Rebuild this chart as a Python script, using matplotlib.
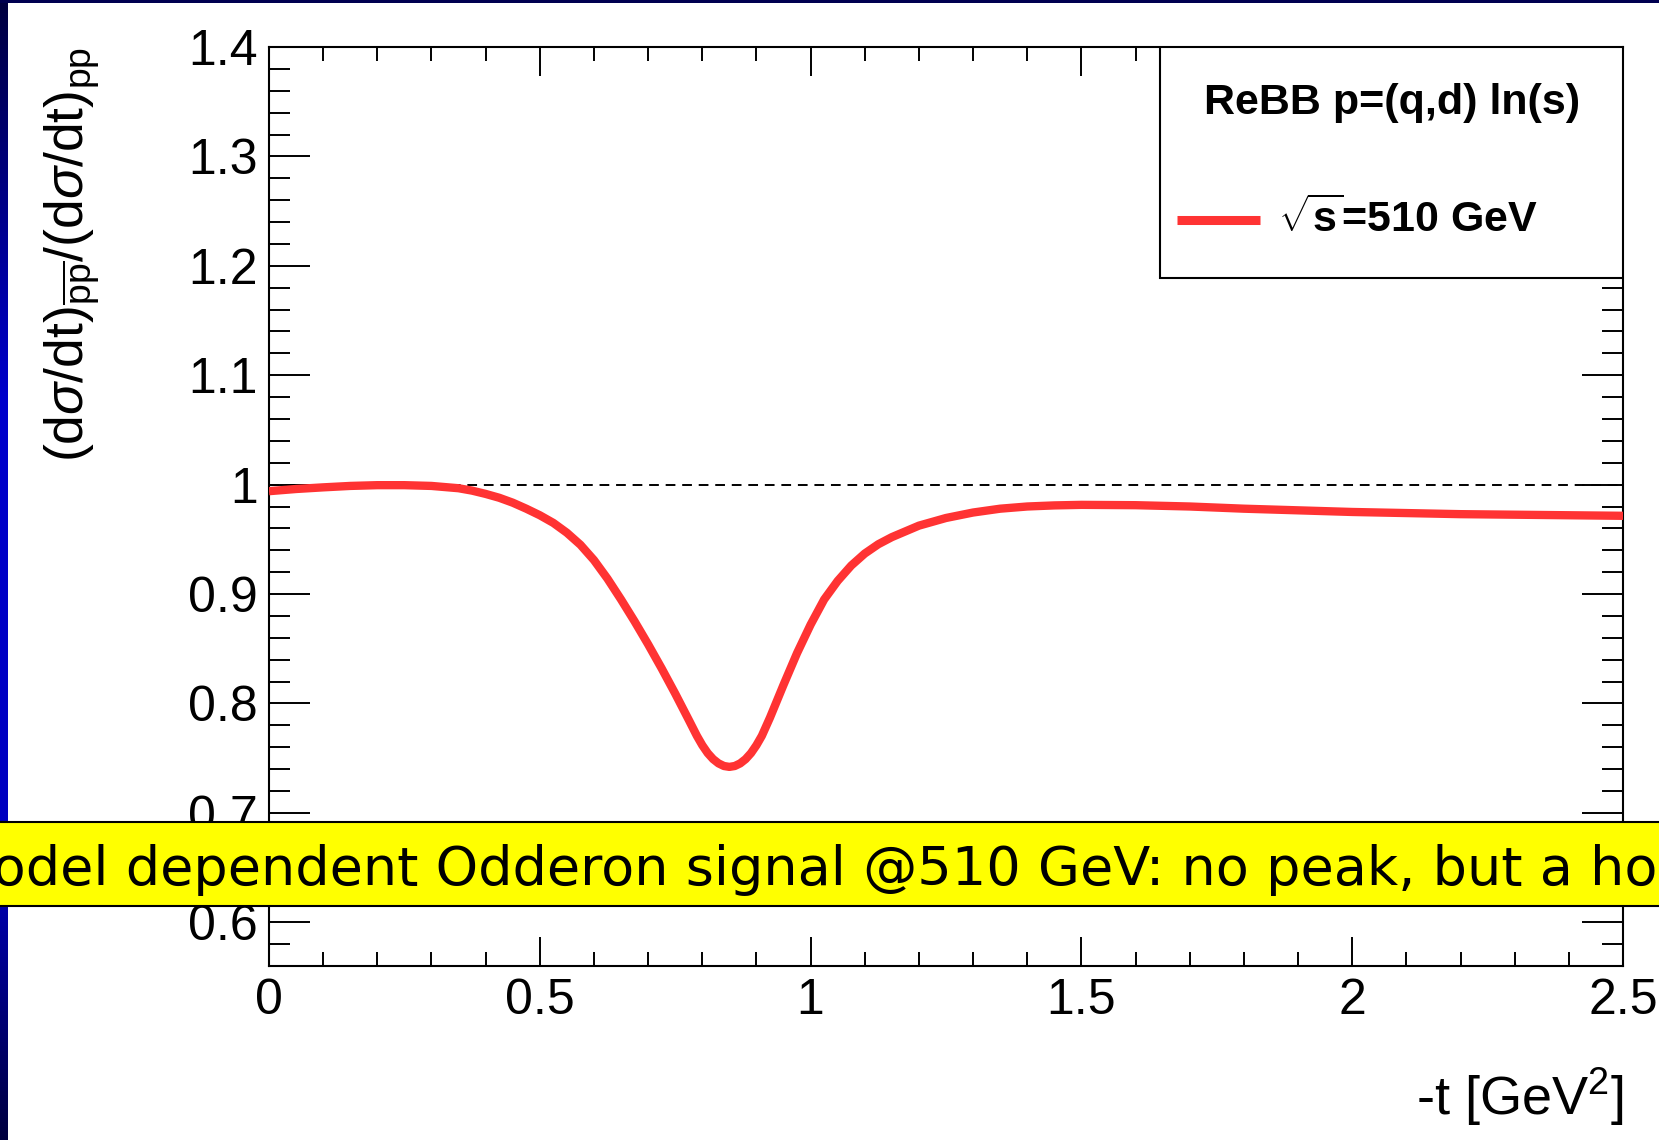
import numpy as np
import matplotlib
matplotlib.use('Agg')
from matplotlib import pyplot as plt
from matplotlib.patches import Rectangle
from matplotlib.ticker import MultipleLocator

# -t values [GeV^2] and the pbar-p / p-p cross section ratio
T_VALUES = [0.0, 0.05, 0.1, 0.15, 0.2, 0.25, 0.3, 0.35, 0.375, 0.4, 0.425,
            0.45, 0.475, 0.5, 0.525, 0.55, 0.575, 0.6, 0.625, 0.65, 0.675,
            0.7, 0.725, 0.75, 0.775, 0.79, 0.8, 0.81, 0.82, 0.83, 0.84,
            0.85, 0.86, 0.87, 0.88, 0.89, 0.9, 0.91, 0.925, 0.95, 0.975,
            1.0, 1.025, 1.05, 1.075, 1.1, 1.125, 1.15, 1.2, 1.25, 1.3, 1.35,
            1.4, 1.45, 1.5, 1.6, 1.7, 1.8, 2.0, 2.2, 2.5]
RATIO_VALUES = [0.994, 0.996, 0.9975, 0.9988, 0.9995, 0.9995, 0.9988, 0.9967,
                0.9945, 0.9915, 0.988, 0.9835, 0.978, 0.972, 0.965, 0.956,
                0.945, 0.931, 0.914, 0.895, 0.875, 0.854, 0.832, 0.809,
                0.785, 0.7704, 0.7618, 0.7546, 0.7491, 0.7452, 0.7428, 0.742,
                0.7428, 0.7452, 0.7491, 0.7546, 0.7618, 0.7704, 0.787, 0.817,
                0.846, 0.872, 0.895, 0.912, 0.926, 0.937, 0.9455, 0.952,
                0.9625, 0.9695, 0.9745, 0.978, 0.980, 0.981, 0.9815, 0.9812,
                0.980, 0.978, 0.975, 0.973, 0.9715]

X_TICKS = [0, 0.5, 1, 1.5, 2, 2.5]
X_TICKLABELS = ['0', '0.5', '1', '1.5', '2', '2.5']
Y_TICKS = [0.6, 0.7, 0.8, 0.9, 1.0, 1.1, 1.2, 1.3, 1.4]
Y_TICKLABELS = ['0.6', '0.7', '0.8', '0.9', '1', '1.1', '1.2', '1.3', '1.4']

LEGEND_TITLE = 'ReBB p=(q,d) ln(s)'
LEGEND_ENTRY = r'$\sqrt{\mathbf{s}}$=510 GeV'
BANNER_TEXT = 'Model dependent Odderon signal @510 GeV: no peak, but a hole'

RED = '#ff3333'
W, H = 1659, 1140

plt.rcParams['font.family'] = ['Liberation Sans', 'DejaVu Sans']
plt.rcParams['mathtext.fontset'] = 'custom'
plt.rcParams['mathtext.rm'] = 'Liberation Sans'
plt.rcParams['mathtext.it'] = 'Liberation Sans:italic'
plt.rcParams['mathtext.bf'] = 'Liberation Sans:bold'

fig = plt.figure(figsize=(W / 100, H / 100), dpi=100, facecolor='white')

# slide decoration: gradient bar on the left, dark line on top
bar = fig.add_axes([0, 0, 8 / W, 1])
grad = np.interp(np.linspace(0, 1, 256), [0, 0.35, 0.75, 1.0],
                 [0.25, 0.8, 0.75, 0.25])
img = np.zeros((256, 1, 3))
img[:, 0, 2] = grad
bar.imshow(img, aspect='auto', extent=[0, 1, 0, 1])
bar.axis('off')
fig.patches.append(Rectangle((0, 1 - 3 / H), 1, 3 / H, transform=fig.transFigure,
                             facecolor='#000050', edgecolor='none', zorder=1))

ax = fig.add_axes([269 / W, 1 - 966 / H, (1623 - 269) / W, (966 - 47) / H])
ax.axhline(1.0, color='black', lw=1.4, ls=(0, (5, 3.5)), zorder=2)
ax.plot(T_VALUES, RATIO_VALUES, color=RED, lw=6, solid_capstyle='butt',
        solid_joinstyle='round', zorder=3)

ax.set_xlim(0, 2.5)
ax.set_ylim(0.56, 1.4)
ax.set_xticks(X_TICKS)
ax.set_xticklabels(X_TICKLABELS)
ax.set_yticks(Y_TICKS)
ax.set_yticklabels(Y_TICKLABELS)
ax.xaxis.set_minor_locator(MultipleLocator(0.1))
ax.yaxis.set_minor_locator(MultipleLocator(0.02))
ax.tick_params(which='both', direction='in', top=True, right=True, width=1.4,
               labelsize=36, colors='black')
ax.tick_params(axis='x', which='major', length=21, pad=9)
ax.tick_params(axis='x', which='minor', length=10)
ax.tick_params(axis='y', which='major', length=29.5, pad=8)
ax.tick_params(axis='y', which='minor', length=15)
for sp in ax.spines.values():
    sp.set_linewidth(1.5)

# legend box in the ROOT style
ax.add_patch(Rectangle((0.658, 0.7486), 0.342, 0.2514, transform=ax.transAxes,
                       facecolor='white', edgecolor='black', lw=1.5, zorder=5))
ax.text(0.8294, 0.939, LEGEND_TITLE, transform=ax.transAxes, ha='center',
        va='center', fontsize=31, fontweight='bold', zorder=6)
ax.plot([0.6706, 0.7319], [0.8118, 0.8118], transform=ax.transAxes, color=RED,
        lw=6.5, solid_capstyle='butt', zorder=6)
ax.text(0.7452, 0.8118, LEGEND_ENTRY, transform=ax.transAxes, ha='left',
        va='center', fontsize=31, fontweight='bold', zorder=6)

fig.text(72 / W, 1 - 47 / H,
         r'(d$\sigma$/dt)$_{\overline{\mathrm{pp}}}$/(d$\sigma$/dt)$_{\mathrm{pp}}$',
         rotation=90, ha='center', va='top', fontsize=38.5)
fig.text(1624 / W, 1 - 1097 / H, r'-t [GeV$^{2}$]', ha='right', va='center',
         fontsize=39)

# yellow banner across the slide (text runs past both edges, as on the slide)
fig.patches.append(Rectangle((-0.01, 1 - 906 / H), 1.02, 84 / H,
                             transform=fig.transFigure, facecolor='#ffff00',
                             edgecolor='black', lw=1.5, zorder=10))
fig.text(-54 / W, 1 - 885 / H, BANNER_TEXT, ha='left', va='baseline',
         fontsize=39, family='DejaVu Sans', zorder=11)

fig.savefig('out.png', dpi=100, facecolor='white')
